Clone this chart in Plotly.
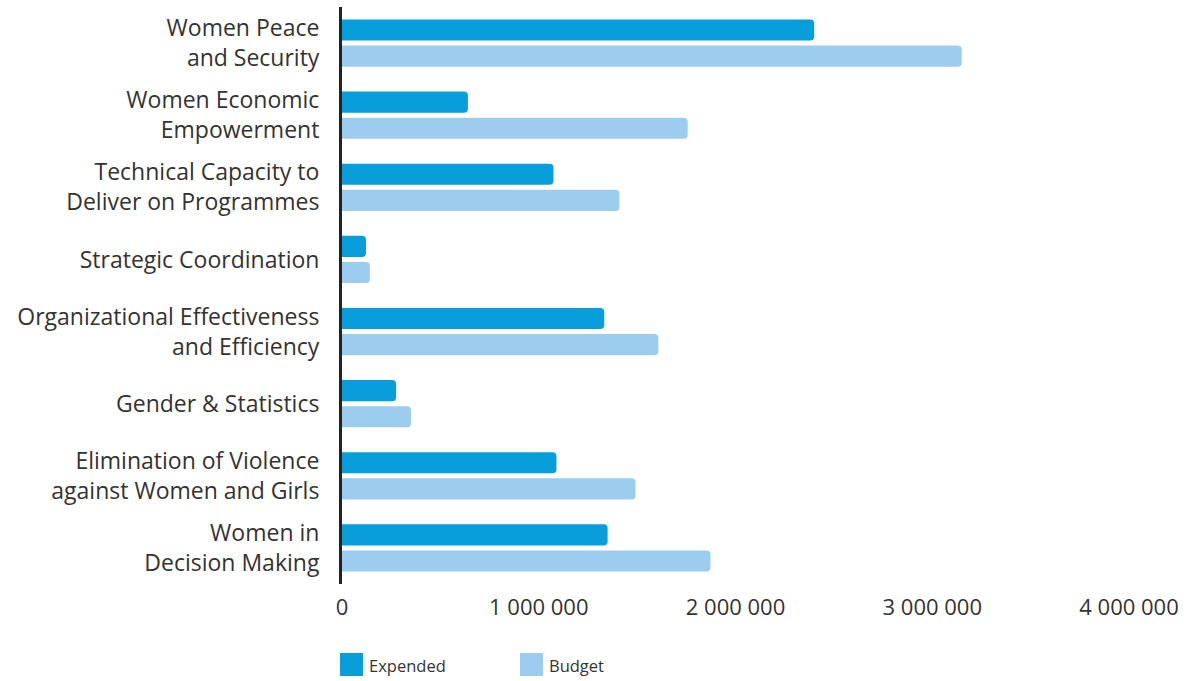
import plotly.graph_objects as go

categories = [
    "Women Peace<br>and Security",
    "Women Economic<br>Empowerment",
    "Technical Capacity to<br>Deliver on Programmes",
    "Strategic Coordination",
    "Organizational Effectiveness<br>and Efficiency",
    "Gender & Statistics",
    "Elimination of Violence<br>against Women and Girls",
    "Women in<br>Decision Making",
]
expended = [2400000, 640000, 1075000, 122000, 1333000, 275000, 1090000, 1350000]
budget = [3150000, 1757000, 1410000, 142000, 1608000, 351000, 1492000, 1873000]
x_ticks = [0, 1000000, 2000000, 3000000, 4000000]

C_EXP = "#079EDB"
C_BUD = "#9DCDEE"
FONT = "Open Sans"

fig = go.Figure()
fig.add_trace(go.Bar(y=categories, x=expended, orientation="h", name="Expended",
                     marker=dict(color=C_EXP, line=dict(width=0))))
fig.add_trace(go.Bar(y=categories, x=budget, orientation="h", name="Budget",
                     marker=dict(color=C_BUD, line=dict(width=0))))

fig.update_layout(
    width=1186, height=681,
    margin=dict(l=342, r=57, t=7, b=97),
    paper_bgcolor="white", plot_bgcolor="white",
    barmode="group", bargap=0.278, bargroupgap=0.19, barcornerradius=4,
    showlegend=False,
    separators=". ",
    font=dict(family=FONT, color="#333333"),
)
fig.update_xaxes(range=[0, 4000000], tickvals=x_ticks, tickformat=",d",
                 showgrid=False, zeroline=False, showline=False,
                 tickfont=dict(size=22, color="#333333"), ticks="", ticklen=0,
                 ticklabelstandoff=8)
fig.update_yaxes(autorange="reversed", showgrid=False, showline=True,
                 linecolor="#222222", linewidth=3, ticks="",
                 tickfont=dict(size=23, color="#333333"), ticklabelstandoff=15)

# legend drawn manually
leg = [("Expended", C_EXP, 340), ("Budget", C_BUD, 520)]
for name, col, x0 in leg:
    fig.add_shape(type="rect", xref="paper", yref="paper",
                  x0=(x0 - 342) / 787, x1=(x0 + 23 - 342) / 787,
                  y0=(584 - 676) / 577, y1=(584 - 653) / 577,
                  fillcolor=col, line=dict(width=0))
    fig.add_annotation(xref="paper", yref="paper", x=(x0 + 27 - 342) / 787,
                       y=(584 - 665) / 577, text=name, showarrow=False,
                       xanchor="left", yanchor="middle",
                       font=dict(size=16.5, color="#333333", family=FONT))

fig.write_html("out.html")
